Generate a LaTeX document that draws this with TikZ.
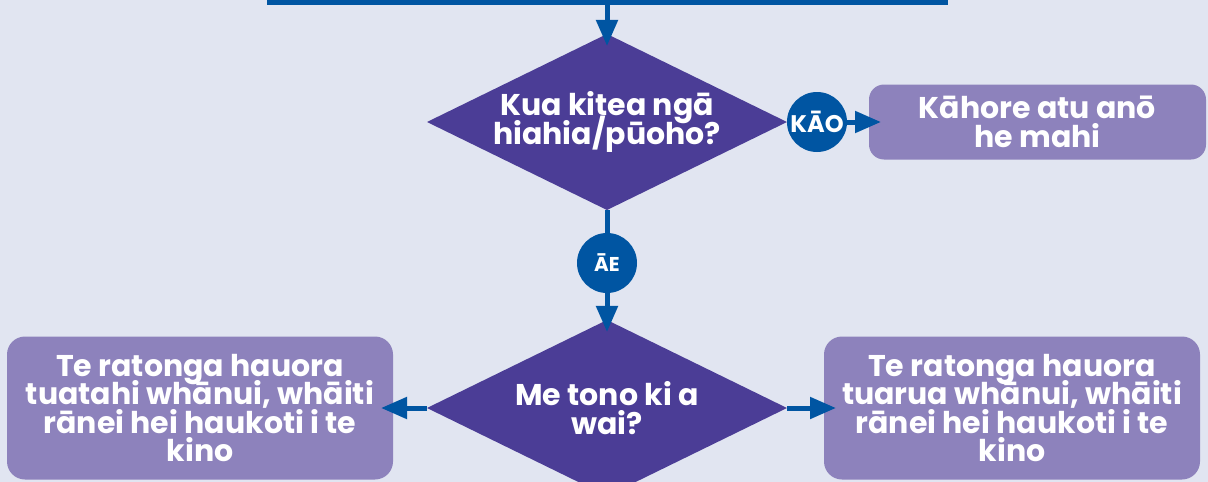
\documentclass[tikz,border=0pt]{standalone}
\usepackage{fontspec}
\setmainfont{Poppins}
\usepackage{tikz}
\usetikzlibrary{arrows.meta}
\usetikzlibrary{positioning}
\usetikzlibrary{shapes.geometric}

\definecolor{bgblue}{HTML}{E1E5F1}
\definecolor{linkblue}{HTML}{0055A2}
\definecolor{askpurple}{HTML}{4B3D96}
\definecolor{boxpurple}{HTML}{8D82BC}

\newcommand\tightlines{\lineskiplimit=-50pt\relax}

\begin{document}
\begin{tikzpicture}[x=1pt, y=-1pt,
    >={Triangle[width=21pt,length=26pt]},
    frame/.style = {rectangle, draw=linkblue, line width=5pt,
                    minimum width=676pt, minimum height=60pt},
    ask/.style = {diamond, fill=askpurple, aspect=2.05,
                  minimum width=360pt, minimum height=176pt,
                  inner sep=-8pt, outer sep=0pt, text=white, align=center,
                  font=\bfseries\fontsize{30}{29}\selectfont\tightlines},
    reply/.style = {circle, fill=linkblue, minimum size=60pt,
                    inner sep=0pt, outer sep=0pt, text=white,
                    font=\bfseries\fontsize{20}{20}\selectfont},
    result/.style = {rectangle, rounded corners=18pt, fill=boxpurple,
                     inner sep=0pt, outer sep=0pt, text=white, align=center,
                     font=\bfseries\fontsize{30}{28.5}\selectfont\tightlines}]
  \path[use as bounding box, fill=bgblue] (0,0) rectangle (1208,482);

  \node (q1) [ask] at (607,122) {Kua kitea ngā\\hiahia/pūoho?};
  \node (top) [frame, above=29pt of q1] {};
  \node (kao) [reply, right=0pt of q1,
               font=\bfseries\fontsize{24}{24}\selectfont] {KĀO};
  \node (none) [result, right=22pt of kao, minimum width=337pt,
                minimum height=75pt, rounded corners=15pt] {Kāhore atu anō\\he mahi};
  \node (ae) [reply, below=23pt of q1] {ĀE};
  \node (q2) [ask, below=27pt of ae] {Me tono ki a\\wai?};
  \node (prim) [result, left=34pt of q2, minimum width=386pt,
                minimum height=143pt] {Te ratonga hauora\\tuatahi whānui, whāiti\\rānei hei haukoti i te\\kino};
  \node (sec) [result, right=37pt of q2, minimum width=376pt,
               minimum height=143pt] {Te ratonga hauora\\tuarua whānui, whāiti\\rānei hei haukoti i te\\kino};

  \path[color=linkblue, line width=5pt]
    (q1) edge (kao)
    (q1) edge (ae);
  \path[->, color=linkblue, line width=5pt, shorten >=-12pt]
    (top) edge (q1)
    (kao) edge (none)
    (ae) edge (q2)
    (q2) edge (prim)
    (q2) edge (sec);
\end{tikzpicture}
\end{document}
